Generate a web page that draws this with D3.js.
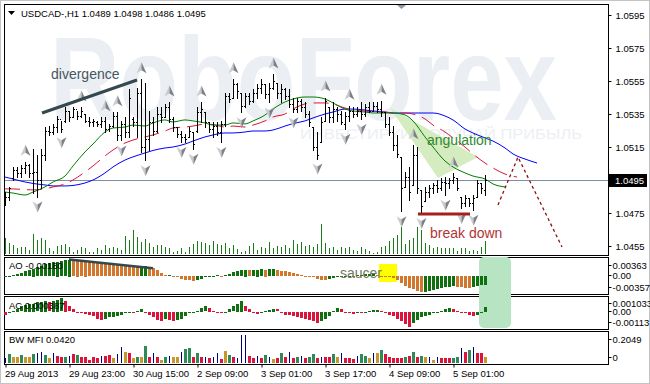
<!DOCTYPE html>
<html><head><meta charset="utf-8">
<script src="https://cdn.jsdelivr.net/npm/d3@7"></script>
<style>
body{margin:0;background:#fff;}
svg{display:block;font-family:"Liberation Sans",Arial,sans-serif;}
</style></head><body>
<svg id="c" width="650" height="384"></svg>
<script>
// ---------------- DATA ----------------
const headerText = "USDCAD-,H1  1.0489 1.0498 1.0486 1.0495";
const highs = [1.0488,1.0491,1.0503,1.0503,1.0504,1.0506,1.0505,1.0514,1.0510,1.0514,
1.0527,1.0528,1.0529,1.0534,1.0531,1.0539,1.0537,1.0539,1.0537,1.0539,
1.0535,1.0533,1.0532,1.0531,1.0533,1.0533,1.0529,1.0536,1.0536,1.0531,
1.0533,1.0550,1.0533,1.0551,1.0556,1.0554,1.0537,1.0533,1.0539,1.0539,
1.0541,1.0542,1.0533,1.0527,1.0525,1.0523,1.0527,1.0524,1.0539,1.0542,
1.0536,1.0530,1.0530,1.0530,1.0531,1.0548,1.0548,1.0556,1.0554,1.0548,
1.0548,1.0548,1.0550,1.0553,1.0556,1.0553,1.0554,1.0559,1.0554,1.0553,
1.0551,1.0550,1.0545,1.0545,1.0544,1.0542,1.0537,1.0527,1.0524,1.0533,
1.0545,1.0539,1.0542,1.0539,1.0537,1.0536,1.0540,1.0539,1.0539,1.0542,
1.0541,1.0542,1.0542,1.0542,1.0543,1.0536,1.0533,1.0528,1.0522,1.0509,
1.0500,1.0503,1.0516,1.0515,1.0489,1.0491,1.0492,1.0493,1.0495,1.0496,
1.0497,1.0496,1.0499,1.0496,1.0485,1.0486,1.0484,1.0486,1.0495,1.0493,
1.0498];
const lows = [1.0480,1.0483,1.0495,1.0497,1.0497,1.0499,1.0497,1.0487,1.0485,1.0490,
1.0507,1.0522,1.0523,1.0524,1.0524,1.0530,1.0531,1.0533,1.0532,1.0533,
1.0530,1.0528,1.0528,1.0528,1.0527,1.0524,1.0525,1.0527,1.0519,1.0519,
1.0521,1.0521,1.0528,1.0521,1.0512,1.0507,1.0513,1.0522,1.0524,1.0530,
1.0533,1.0530,1.0525,1.0521,1.0518,1.0518,1.0521,1.0514,1.0524,1.0530,
1.0527,1.0524,1.0521,1.0522,1.0518,1.0528,1.0542,1.0545,1.0545,1.0536,
1.0539,1.0541,1.0542,1.0545,1.0548,1.0545,1.0542,1.0550,1.0545,1.0542,
1.0544,1.0539,1.0536,1.0536,1.0537,1.0533,1.0528,1.0513,1.0508,1.0518,
1.0531,1.0530,1.0530,1.0531,1.0529,1.0526,1.0531,1.0533,1.0534,1.0532,
1.0534,1.0536,1.0537,1.0536,1.0534,1.0527,1.0522,1.0513,1.0509,1.0476,
1.0491,1.0483,1.0492,1.0487,1.0475,1.0482,1.0485,1.0487,1.0488,1.0489,
1.0486,1.0490,1.0493,1.0489,1.0478,1.0479,1.0479,1.0477,1.0485,1.0487,
1.0486];
const opens = [1.0482,1.0485,1.0496,1.0501,1.0499,1.0502,1.0504,1.0499,1.0500,1.0495,
1.0510,1.0525,1.0524,1.0527,1.0532,1.0531,1.0537,1.0533,1.0538,1.0534,
1.0535,1.0531,1.0530,1.0530,1.0529,1.0531,1.0526,1.0528,1.0534,1.0522,
1.0529,1.0524,1.0532,1.0530,1.0548,1.0515,1.0520,1.0530,1.0525,1.0535,
1.0533,1.0539,1.0532,1.0527,1.0523,1.0521,1.0521,1.0524,1.0525,1.0536,
1.0536,1.0530,1.0526,1.0528,1.0524,1.0529,1.0546,1.0545,1.0553,1.0548,
1.0540,1.0546,1.0543,1.0548,1.0551,1.0553,1.0547,1.0551,1.0554,1.0548,
1.0550,1.0546,1.0541,1.0538,1.0543,1.0539,1.0535,1.0527,1.0515,1.0518,
1.0531,1.0539,1.0533,1.0538,1.0535,1.0529,1.0534,1.0537,1.0535,1.0537,
1.0535,1.0539,1.0537,1.0540,1.0538,1.0536,1.0529,1.0524,1.0516,1.0509,
1.0491,1.0497,1.0492,1.0510,1.0489,1.0482,1.0488,1.0490,1.0492,1.0490,
1.0494,1.0493,1.0495,1.0496,1.0485,1.0481,1.0484,1.0481,1.0485,1.0493,
1.0489];
const closes = [1.0485,1.0490,1.0501,1.0499,1.0502,1.0504,1.0499,1.0500,1.0495,1.0510,
1.0525,1.0524,1.0527,1.0532,1.0526,1.0537,1.0533,1.0538,1.0534,1.0537,
1.0531,1.0530,1.0531,1.0529,1.0531,1.0526,1.0528,1.0534,1.0522,1.0529,
1.0524,1.0545,1.0530,1.0548,1.0515,1.0520,1.0530,1.0525,1.0535,1.0533,
1.0539,1.0532,1.0527,1.0523,1.0521,1.0520,1.0525,1.0517,1.0536,1.0538,
1.0530,1.0526,1.0528,1.0524,1.0529,1.0546,1.0544,1.0553,1.0549,1.0540,
1.0546,1.0543,1.0548,1.0551,1.0553,1.0547,1.0551,1.0555,1.0548,1.0550,
1.0546,1.0541,1.0538,1.0543,1.0539,1.0535,1.0530,1.0515,1.0510,1.0530,
1.0543,1.0533,1.0538,1.0535,1.0530,1.0534,1.0537,1.0535,1.0537,1.0535,
1.0539,1.0537,1.0540,1.0538,1.0536,1.0529,1.0524,1.0516,1.0511,1.0490,
1.0497,1.0488,1.0510,1.0490,1.0479,1.0488,1.0490,1.0492,1.0490,1.0494,
1.0493,1.0495,1.0497,1.0490,1.0481,1.0484,1.0481,1.0484,1.0493,1.0490,
1.0495];
const volumes = [960,660,540,360,420,420,240,1200,840,960,
840,360,180,480,540,600,420,120,240,420,
360,120,120,360,240,540,360,420,360,240,
1080,840,1440,1020,720,900,660,420,540,540,
420,360,120,180,360,120,420,600,780,720,
660,540,780,600,540,660,360,540,300,120,
180,480,660,240,420,360,720,360,480,420,
540,360,840,600,720,480,540,420,600,1800,
660,360,420,240,420,360,420,240,180,420,
300,180,60,120,420,480,780,960,1140,1620,
600,840,960,1620,1440,660,540,360,420,360,
360,360,360,180,360,360,180,240,180,420,
780];
const priceTicks = [1.0595,1.0575,1.0555,1.0535,1.0515,1.0495,1.0475,1.0455];
const lastPrice = 1.0495;
const timeTickIdx = [0,16,32,48,64,80,96,112];
const timeLabels = ["29 Aug 2013","29 Aug 23:00","30 Aug 15:00","2 Sep 09:00","3 Sep 01:00","3 Sep 17:00","4 Sep 09:00","5 Sep 01:00"];
// Alligator-style moving averages: [bar index, price]
const jaw = [[0,1.04968],[2,1.04956],[5,1.04938],[7,1.04929],[10,1.04920],[12,1.04914],[15,1.04914],[17,1.04917],[20,1.04932],[22,1.04950],[25,1.04993],[27,1.05029],[30,1.05071],[32,1.05090],[35,1.05114],[37,1.05129],[40,1.05144],[42,1.05150],[45,1.05168],[47,1.05186],[50,1.05211],[52,1.05223],[55,1.05235],[57,1.05235],[60,1.05241],[62,1.05247],[65,1.05247],[67,1.05253],[70,1.05277],[72,1.05292],[75,1.05308],[77,1.05326],[80,1.05350],[82,1.05362],[85,1.05380],[87,1.05380],[90,1.05374],[92,1.05368],[95,1.05362],[97,1.05356],[100,1.05356],[102,1.05356],[105,1.05356],[107,1.05356],[110,1.05338],[112,1.05314],[115,1.05259],[117,1.05235],[120,1.05205],[122,1.05186],[125,1.05144],[127,1.05108],[130,1.05077],[133,1.05053]];
const teeth = [[0,1.04896],[2,1.04896],[5,1.04892],[7,1.04890],[10,1.04896],[12,1.04908],[15,1.04926],[17,1.04950],[20,1.04999],[22,1.05035],[25,1.05096],[27,1.05132],[30,1.05174],[32,1.05192],[35,1.05211],[37,1.05223],[40,1.05247],[42,1.05265],[45,1.05271],[47,1.05277],[50,1.05289],[52,1.05286],[55,1.05271],[57,1.05277],[60,1.05271],[62,1.05283],[65,1.05308],[67,1.05332],[70,1.05350],[72,1.05380],[75,1.05411],[77,1.05417],[80,1.05417],[82,1.05411],[85,1.05386],[87,1.05374],[90,1.05368],[92,1.05362],[95,1.05362],[97,1.05356],[100,1.05356],[102,1.05350],[105,1.05320],[107,1.05283],[110,1.05241],[112,1.05205],[115,1.05150],[117,1.05108],[120,1.05053],[122,1.05023],[125,1.04986],[128,1.04968]];
const lips = [[0,1.04877],[2,1.04871],[5,1.04859],[7,1.04877],[10,1.04908],[12,1.04938],[15,1.04974],[17,1.05035],[20,1.05120],[22,1.05168],[25,1.05241],[27,1.05265],[30,1.05271],[32,1.05283],[35,1.05277],[37,1.05296],[40,1.05314],[42,1.05302],[45,1.05314],[47,1.05308],[50,1.05296],[52,1.05283],[55,1.05283],[57,1.05296],[60,1.05290],[62,1.05308],[65,1.05344],[67,1.05380],[70,1.05423],[72,1.05441],[75,1.05453],[77,1.05453],[80,1.05441],[82,1.05417],[85,1.05380],[87,1.05368],[90,1.05362],[92,1.05356],[95,1.05356],[97,1.05356],[100,1.05344],[102,1.05308],[105,1.05211],[107,1.05150],[110,1.05065],[112,1.05029],[115,1.04993],[117,1.04974],[120,1.04956],[122,1.04926],[125,1.04908]];
const fractalUp = [5,19,25,28,34,41,49,57,67,80,86,94,102,112];
const fractalDown = [8,14,29,35,44,47,54,59,66,72,78,85,89,99,104,110,114,117];
const ao = [-0.0002,-0.0002,0.0002,0.0004,0.0007,0.0010,0.0013,0.0016,0.0019,0.0022,
0.0025,0.0027,0.0029,0.0031,0.0032,0.0034,0.0035,0.0034,0.0033,0.0032,
0.0031,0.0030,0.0029,0.0028,0.0027,0.0026,0.00255,0.0025,0.0024,0.0023,
0.0022,0.0021,0.0020,0.00195,0.0021,0.0022,0.0020,0.0017,0.0012,0.0006,
0.0002,0.0003,-0.0001,-0.0003,-0.0006,-0.0008,-0.0009,-0.0010,-0.0008,-0.0006,
-0.0003,-0.0001,0.0001,0.0002,0.0001,0.0002,0.0004,0.0008,0.0011,0.0013,
0.0014,0.0013,0.00135,0.0014,0.0015,0.0014,0.00145,0.0015,0.0013,0.0011,
0.0010,0.0008,0.0006,0.0004,0.0002,0.0001,0.0000,-0.0003,-0.0006,-0.0008,
-0.0009,-0.0007,-0.0005,-0.0003,-0.0002,-0.0001,0.0001,0.00005,0.0002,0.0003,
0.00035,0.0004,0.00045,0.0003,0.0001,-0.0002,-0.0003,-0.0005,-0.0009,-0.0015,
-0.0021,-0.0025,-0.0028,-0.0031,-0.0034,-0.0033,-0.0031,-0.0029,-0.0027,-0.0025,
-0.0024,-0.0023,-0.0022,-0.0023,-0.0024,-0.0025,-0.0026,-0.0024,-0.0021,-0.0019,
-0.0018];
const aoTicks = [0.00363,0,-0.00357];
const aoTickLabels = ["0.00363","0.00","-0.00357"];
const ac = [-0.0002,-0.0001,0.0001,0.0002,0.0004,0.0005,0.0006,0.00062,0.0007,0.00072,
0.0008,0.0007,0.0008,0.0009,0.0010,0.0008,0.0004,0.0002,0.0000,-0.0001,
-0.00012,-0.0002,-0.0003,-0.0005,-0.0006,-0.0005,-0.0004,-0.00035,-0.0003,-0.0002,
-0.0001,-0.00005,-0.0001,0.0001,0.0002,-0.0001,-0.0002,-0.0004,-0.0006,-0.0007,
-0.0005,-0.0006,-0.0007,-0.0006,-0.0005,-0.0003,-0.0001,-0.00005,0.0001,0.0003,
0.0004,0.0003,0.0001,0.0000,-0.0001,0.0000,0.0002,0.0004,0.0006,0.0008,
0.0004,0.0002,-0.0001,-0.00015,0.0000,0.0001,0.00015,0.0002,0.00018,-0.0001,
-0.0002,-0.00025,-0.0003,-0.0004,-0.00045,-0.0005,-0.0006,-0.0007,-0.0008,-0.0007,
-0.0005,-0.0003,0.0001,0.0003,0.0002,0.0000,-0.0001,-0.00012,-0.00008,-0.0001,
0.0000,0.0001,0.00012,0.00014,0.00005,-0.0001,-0.0002,-0.0003,-0.0005,-0.0007,
-0.0009,-0.0011,-0.0008,-0.0006,-0.0004,-0.0003,-0.0002,-0.0001,0.0000,0.0001,
0.0002,0.0003,0.0002,0.0001,0.0000,-0.0001,-0.0002,-0.0003,-0.0002,-0.0001,
0.000387];
const acTicks = [0.001033,0,-0.00113];
const acTickLabels = ["0.001033","0.00","-0.00113"];
const mfi = [0.034,0.066,0.046,0.046,0.059,0.042,0.042,0.066,0.075,0.083,
0.059,0.034,0.071,0.051,0.042,0.042,0.051,0.066,0.059,0.046,
0.042,0.022,0.042,0.034,0.051,0.051,0.059,0.040,0.066,0.117,
0.083,0.071,0.034,0.042,0.042,0.124,0.046,0.071,0.042,0.022,
0.042,0.051,0.046,0.042,0.083,0.100,0.108,0.046,0.075,0.042,
0.042,0.034,0.046,0.071,0.030,0.090,0.059,0.042,0.040,0.2049,
0.2049,0.051,0.034,0.051,0.034,0.059,0.046,0.027,0.034,0.075,
0.042,0.083,0.034,0.042,0.051,0.034,0.046,0.066,0.034,0.046,
0.042,0.046,0.066,0.046,0.071,0.034,0.034,0.027,0.051,0.066,
0.051,0.034,0.071,0.075,0.095,0.066,0.042,0.034,0.034,0.034,
0.046,0.051,0.083,0.046,0.051,0.042,0.042,0.022,0.042,0.034,
0.034,0.034,0.034,0.042,0.108,0.083,0.095,0.117,0.075,0.071,
0.042];
const mfiState = ["n","g","o","o","g","o","o","g","n","n",
"g","o","n","r","r","g","n","r","g","r",
"r","r","r","r","n","r","r","o","n","n",
"o","r","o","g","o","g","r","n","r","o",
"g","n","o","o","n","g","g","r","g","r",
"n","r","n","n","r","o","g","r","n","n",
"n","r","r","n","r","g","n","o","r","g",
"r","n","r","g","n","r","g","g","r","n",
"r","r","g","o","n","r","r","r","n","g",
"g","o","n","o","g","r","r","r","r","r",
"g","r","g","r","g","o","n","o","n","r",
"r","r","g","g","n","r","g","n","r","r",
"o"];
const mfiTicks = [0.2049,0];
const mfiTickLabels = ["0.2049","0"];
// annotations, in data units (bar index, price / indicator value)
const divergencePrice = [[9.25,1.05356],[33,1.05556]];
const divergenceAO = [[16,0.0035],[37,0.00165]];
const angulationZone = [[96.25,1.05386],[118.25,1.05089],[108.25,1.04962]];
const breakDownLine = [[103.25,1.04744],[116.25,1.04744]];
const forecast = [[123.25,1.04799],[128.25,1.05089],[139.25,1.04544]];

// ---------------- DRAWING ----------------
const svg = d3.select("#c");
const FONT = 9.5;
svg.append("rect").attr("width",650).attr("height",384).attr("fill","#fff");
svg.append("rect").attr("x",0.5).attr("y",0.5).attr("width",649).attr("height",383)
  .attr("fill","none").attr("stroke","#c4c4c4");

const x = d3.scaleLinear().domain([0,120]).range([5,485]);
const py = d3.scaleLinear().domain([1.0455,1.0595]).range([246,15]);
const vy = d3.scaleLinear().domain([0,1800]).range([254,224]);
const aoY = d3.scaleLinear().domain([-0.00357,0.00363]).range([293,259]);
const acY = d3.scaleLinear().domain([-0.00113,0.001033]).range([327,298]);
const mfiY = d3.scaleLinear().domain([0,0.2049]).range([363,335]);

const defs = svg.append("defs");
defs.append("clipPath").attr("id","clipMain").append("rect").attr("x",5).attr("y",5).attr("width",603).attr("height",250);

const main = svg.append("g").attr("clip-path","url(#clipMain)");
// watermark
main.append("text").attr("x",50).attr("y",120).attr("font-size",118).attr("font-weight","bold")
  .attr("fill","#ebeff3").attr("textLength",507).attr("lengthAdjust","spacingAndGlyphs").text("RoboForex");
main.append("text").attr("x",300).attr("y",139).attr("font-size",14)
  .attr("fill","#eceff3").attr("textLength",282).attr("lengthAdjust","spacingAndGlyphs").text("ИНВЕСТИРУЙ ПОЛУЧАЙ ПРИБЫЛЬ");

// angulation zone
main.append("polygon").attr("points", angulationZone.map(d=>[x(d[0]),py(d[1])].join(",")).join(" "))
  .attr("fill","#d4ecbf");

// current price line
main.append("line").attr("x1",4).attr("x2",608).attr("y1",Math.round(py(lastPrice))+0.5).attr("y2",Math.round(py(lastPrice))+0.5)
  .attr("stroke","#7f8fa0").attr("stroke-width",1);

// volumes
main.selectAll(".vol").data(volumes).enter().append("line")
  .attr("x1",(d,i)=>Math.round(x(i))+0.5).attr("x2",(d,i)=>Math.round(x(i))+0.5)
  .attr("y1",vy(0)).attr("y2",d=>vy(d)).attr("stroke","#1c7a1c").attr("stroke-width",1);

// moving averages
const ln = d3.line().x(d=>x(d[0])).y(d=>py(d[1])).curve(d3.curveMonotoneX);
main.append("path").attr("d",ln(jaw)).attr("fill","none").attr("stroke","#0000ff").attr("stroke-width",1);
main.append("path").attr("d",ln(teeth)).attr("fill","none").attr("stroke","#dc143c").attr("stroke-width",1).attr("stroke-dasharray","15,7");
main.append("path").attr("d",ln(lips)).attr("fill","none").attr("stroke","#008000").attr("stroke-width",1);

// OHLC bars
const bars = main.append("g").attr("fill","#000");
highs.forEach((h,i)=>{
  const cx = Math.round(x(i));
  const yh = Math.round(py(h)), yl = Math.round(py(lows[i]));
  bars.append("rect").attr("x",cx).attr("y",yh).attr("width",1).attr("height",Math.max(1,yl-yh+1));
  bars.append("rect").attr("x",cx-1).attr("y",Math.round(py(opens[i]))).attr("width",1).attr("height",1);
  bars.append("rect").attr("x",cx+1).attr("y",Math.round(py(closes[i]))).attr("width",1).attr("height",1);
});

// fractals
function arrow(cx, cy, up){
  const s = up ? 1 : -1;
  const g = main.append("g");
  g.append("path").attr("d",`M${cx},${cy-6*s} L${cx-5},${cy+5*s} L${cx},${cy+2*s} Z`).attr("fill","#c9cbce");
  g.append("path").attr("d",`M${cx},${cy-6*s} L${cx+5},${cy+5*s} L${cx},${cy+2*s} Z`).attr("fill","#7c8087");
}
fractalUp.forEach(i=>arrow(Math.round(x(i))+0.5, py(highs[i])-11, true));
fractalDown.forEach(i=>arrow(Math.round(x(i))+0.5, py(lows[i])+10, false));

// annotations
main.append("line").attr("x1",x(divergencePrice[0][0])).attr("y1",py(divergencePrice[0][1]))
  .attr("x2",x(divergencePrice[1][0])).attr("y2",py(divergencePrice[1][1]))
  .attr("stroke","#34484f").attr("stroke-width",3);
main.append("text").attr("x",51).attr("y",79).attr("font-size",14).attr("fill","#45565f").text("divergence");
main.append("text").attr("x",427).attr("y",145).attr("font-size",14).attr("fill","#2f8a2f").text("angulation");
main.append("line").attr("x1",x(breakDownLine[0][0])).attr("y1",py(breakDownLine[0][1]))
  .attr("x2",x(breakDownLine[1][0])).attr("y2",py(breakDownLine[1][1]))
  .attr("stroke","#a3201f").attr("stroke-width",3);
main.append("text").attr("x",430).attr("y",238).attr("font-size",14).attr("fill","#b03535").text("break down");
main.append("path").attr("d",d3.line().x(d=>x(d[0])).y(d=>py(d[1]))(forecast))
  .attr("fill","none").attr("stroke","#8b1010").attr("stroke-width",1.3).attr("stroke-dasharray","3,3");

// header
svg.append("path").attr("d","M8,11 L15,11 L11.5,15 Z").attr("fill","#000");
svg.append("text").attr("x",21).attr("y",17).attr("font-size",FONT).attr("fill","#000").text(headerText);
// chart shift marker
svg.append("path").attr("d","M397,5 L406,5 L401.5,9 Z").attr("fill","#8d98a5");

// panel borders
const panels = [[4,4,608,255],[4,257,608,294],[4,296,608,329],[4,331,608,364]];
panels.forEach(p=>{
  svg.append("rect").attr("x",p[0]+0.5).attr("y",p[1]+0.5).attr("width",p[2]-p[0]).attr("height",p[3]-p[1])
    .attr("fill","none").attr("stroke","#000").attr("stroke-width",1);
});

// highlight zones in indicator windows
svg.append("rect").attr("x",379).attr("y",264).attr("width",18).attr("height",18).attr("fill","#ffff00");
svg.append("rect").attr("x",479).attr("y",257).attr("width",32).attr("height",71).attr("rx",5).attr("fill","#b7e4c3");

// AO
const aoG = svg.append("g");
let prevCol = "#107010";
ao.forEach((v,i)=>{
  let col = prevCol;
  if(i===0) col = "#107010"; else if(v>ao[i-1]) col = "#107010"; else if(v<ao[i-1]) col = "#d2772e";
  prevCol = col;
  const y0 = aoY(0), y1 = aoY(v);
  aoG.append("rect").attr("x",Math.round(x(i))-1).attr("y",Math.round(Math.min(y0,y1)))
    .attr("width",3).attr("height",Math.max(1,Math.round(Math.abs(y1-y0)))).attr("fill",col);
});
svg.append("line").attr("x1",x(divergenceAO[0][0])).attr("y1",aoY(divergenceAO[0][1]))
  .attr("x2",x(divergenceAO[1][0])).attr("y2",aoY(divergenceAO[1][1]))
  .attr("stroke","#34484f").attr("stroke-width",2.5);
svg.append("text").attr("x",340).attr("y",278).attr("font-size",14).attr("fill","#6e7863").text("saucer");

// AC
const acG = svg.append("g");
prevCol = "#107010";
ac.forEach((v,i)=>{
  let col = prevCol;
  if(i===0) col = "#dc143c"; else if(v>ac[i-1]) col = "#107010"; else if(v<ac[i-1]) col = "#dc143c";
  prevCol = col;
  const y0 = acY(0), y1 = acY(v);
  acG.append("rect").attr("x",Math.round(x(i))-1).attr("y",Math.round(Math.min(y0,y1)))
    .attr("width",3).attr("height",Math.max(1,Math.round(Math.abs(y1-y0)))).attr("fill",col);
});

// BW MFI
const mfiColors = {g:"#2e8b57", o:"#c8962a", n:"#00007a", r:"#dc143c"};
const mfiG = svg.append("g");
mfi.forEach((v,i)=>{
  const st = mfiState[i];
  const w = st==="n" ? 1 : 3;
  const cx = Math.round(x(i));
  mfiG.append("rect").attr("x", st==="n" ? cx : cx-1).attr("y",Math.round(mfiY(v)))
    .attr("width",w).attr("height",Math.max(1,Math.round(mfiY(0)-mfiY(v)))).attr("fill",mfiColors[st]);
});

// panel titles
svg.append("text").attr("x",9).attr("y",269).attr("font-size",FONT).text("AO -0.00180");
svg.append("text").attr("x",9).attr("y",309).attr("font-size",FONT).text("AC 0.000387");
svg.append("text").attr("x",9).attr("y",343).attr("font-size",FONT).text("BW MFI 0.0420");

// price axis
function styleAxis(g){
  g.select(".domain").remove();
  g.selectAll("text").attr("font-size",FONT).attr("font-family","Liberation Sans, Arial, sans-serif").attr("fill","#000");
  g.selectAll("line").attr("stroke","#000");
}
const pAx = svg.append("g").attr("transform","translate(608.5,0)")
  .call(d3.axisRight(py).tickValues(priceTicks).tickSize(3).tickPadding(4).tickFormat(d3.format(".4f")));
styleAxis(pAx);
pAx.selectAll(".tick").attr("transform",d=>`translate(0,${Math.round(py(d))+0.5})`);
// current price box
svg.append("rect").attr("x",609).attr("y",Math.round(py(lastPrice))-6).attr("width",38).attr("height",13).attr("fill","#000");
svg.append("text").attr("x",615).attr("y",Math.round(py(lastPrice))+4).attr("font-size",FONT).attr("fill","#fff").text(d3.format(".4f")(lastPrice));

function subAxis(scale, ticks, labels, offsets){
  const g = svg.append("g").attr("transform","translate(608.5,0)")
    .call(d3.axisRight(scale).tickValues(ticks).tickSize(3).tickPadding(1).tickFormat((d,i)=>labels[i]));
  styleAxis(g);
  g.selectAll(".tick").attr("transform",(d,i)=>`translate(0,${Math.round(scale(d))+offsets[i]+0.5})`);
}
subAxis(aoY, aoTicks, aoTickLabels, [6,-1,-6]);
subAxis(acY, acTicks, acTickLabels, [5,-1,-5]);
subAxis(mfiY, mfiTicks, mfiTickLabels, [4,-6]);

// time axis
const tAx = svg.append("g").attr("transform","translate(0.5,364.5)")
  .call(d3.axisBottom(x).tickValues(timeTickIdx).tickSize(3).tickPadding(3).tickFormat((d,i)=>timeLabels[i]));
styleAxis(tAx);
tAx.selectAll("text").attr("text-anchor","start").attr("x",-1);
</script>
</body></html>
